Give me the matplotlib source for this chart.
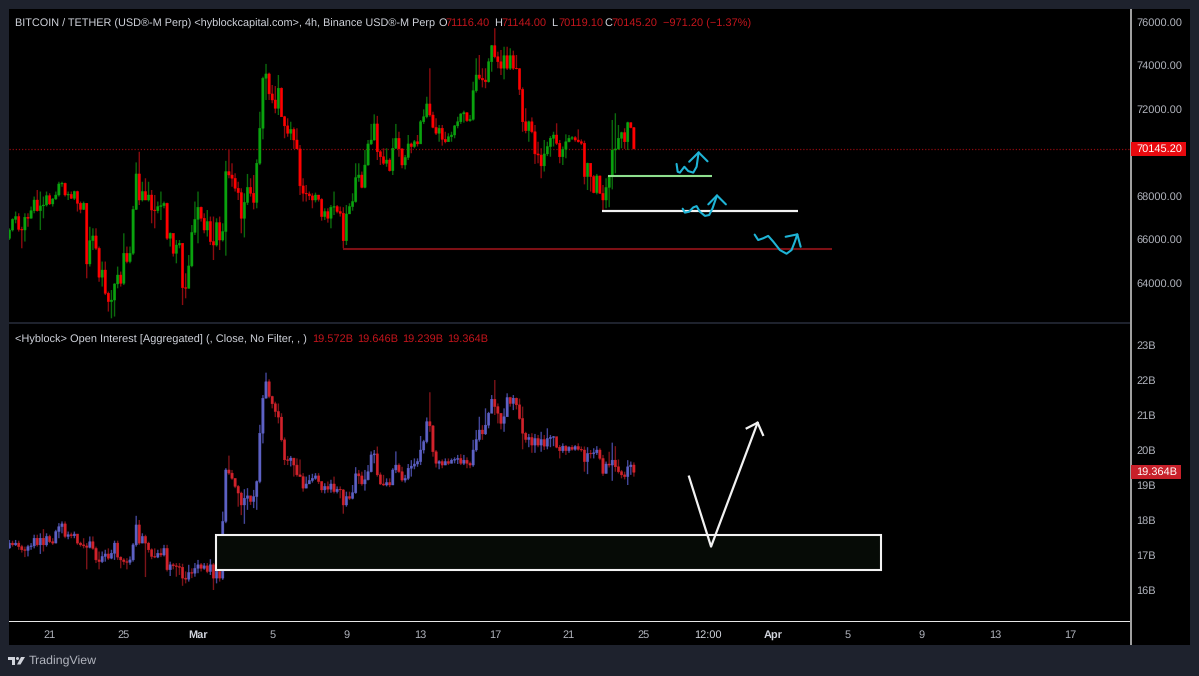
import numpy as np
import pandas as pd
import matplotlib
matplotlib.use('Agg')
import matplotlib.pyplot as plt
from matplotlib.patches import Rectangle, Polygon, Circle

plt.rcParams['font.family'] = ['Liberation Sans', 'DejaVu Sans']
plt.rcParams['text.hinting'] = 'no_hinting'

# ----- candle times -----
first_candle = '2026-02-18 20:00'
n_candles = 203

# ----- BTC price, thousands, open = previous close -----
price_first_open = 66.03
price_close = [
    66.41,66.90,67.03,66.44,66.41,67.00,66.95,67.30,67.79,67.30,
    67.52,67.56,67.99,67.61,67.84,68.02,68.53,68.56,68.02,68.05,
    67.87,68.18,67.64,67.36,67.64,64.85,65.92,66.14,65.57,64.24,
    64.57,63.50,63.12,63.19,63.93,64.34,63.96,65.34,64.96,65.34,
    67.36,68.99,67.79,68.18,67.79,68.02,67.33,67.30,67.49,67.53,
    67.64,66.03,66.26,65.34,65.72,65.80,63.76,63.73,64.76,66.30,
    66.90,67.46,66.95,66.41,66.80,65.88,65.72,66.75,65.95,66.34,
    69.10,68.94,68.79,68.33,68.13,66.95,67.68,68.37,68.10,67.68,
    69.48,71.09,73.39,73.59,72.67,72.39,72.01,72.93,71.62,71.20,
    70.86,71.04,70.55,70.14,68.44,68.10,68.07,67.98,67.79,68.02,
    67.82,67.03,67.26,66.95,67.46,67.49,67.26,67.18,65.92,67.15,
    67.49,67.72,68.82,68.94,68.37,69.40,70.37,70.55,71.29,70.01,
    69.78,69.48,69.63,69.14,70.17,70.63,70.14,69.40,69.75,70.37,
    70.25,70.47,70.37,71.39,71.62,72.21,71.70,71.13,70.86,71.09,
    70.58,70.47,70.70,70.78,71.20,71.39,71.75,71.81,71.44,71.50,
    72.82,73.54,73.39,73.31,73.23,74.15,74.89,74.38,74.15,73.85,
    74.43,73.85,74.43,73.85,73.83,72.88,71.39,70.98,71.39,70.93,
    69.91,69.86,69.36,69.91,70.25,70.63,70.78,70.40,69.78,70.12,
    70.47,70.63,70.66,70.55,70.47,70.40,68.87,69.48,68.87,68.13,
    68.90,68.10,67.79,68.37,68.87,70.09,70.14,70.63,70.89,70.47,
    71.35,71.12,70.145]
price_high = [
    66.49,66.95,67.26,67.18,66.56,67.18,67.18,67.49,67.95,68.25,
    68.18,67.95,68.18,68.10,67.87,68.18,68.63,68.63,68.59,68.18,
    68.18,68.22,68.22,67.72,67.72,67.64,66.56,66.49,66.49,65.65,
    64.96,64.96,63.58,63.65,63.96,64.73,64.50,66.26,65.65,65.65,
    67.52,69.52,70.01,68.63,68.79,68.63,68.25,68.02,67.72,68.18,
    67.72,67.67,66.30,66.07,65.95,65.95,65.80,64.42,65.26,66.64,
    67.72,68.18,67.49,67.18,67.33,67.03,67.03,66.95,67.03,66.72,
    69.59,70.09,69.48,69.02,68.63,68.33,68.10,68.99,68.79,68.94,
    69.66,71.85,73.46,74.05,73.65,73.08,73.03,73.54,72.97,71.66,
    71.55,71.39,71.13,71.09,70.32,68.79,68.48,68.18,68.10,68.13,
    68.02,67.87,67.41,67.41,67.56,68.18,67.56,67.49,67.46,67.56,
    67.64,68.10,69.48,69.48,69.10,70.09,70.55,71.29,71.73,71.66,
    70.09,70.17,70.17,69.71,70.63,71.29,70.93,70.17,69.86,70.78,
    70.43,70.55,70.78,71.47,71.96,72.54,73.85,71.85,71.55,71.24,
    71.24,70.93,70.86,70.93,71.24,71.62,71.78,71.90,71.81,71.70,
    73.23,74.31,74.46,73.85,73.85,74.31,74.92,75.69,74.61,74.69,
    74.84,74.84,74.77,74.66,74.46,73.85,72.97,72.01,71.44,71.59,
    71.24,70.47,70.17,70.55,70.47,70.73,70.93,71.32,70.55,70.25,
    70.81,70.78,70.73,70.73,71.04,70.58,70.52,69.51,69.48,68.94,
    68.99,68.87,68.48,68.79,68.90,71.47,71.78,71.24,70.93,71.09,
    71.39,71.35,71.144]
price_low = [
    65.95,66.34,66.72,66.34,65.57,65.88,66.56,66.95,67.18,67.26,
    66.41,66.95,67.49,67.56,67.49,67.79,67.95,68.40,67.95,67.79,
    67.84,67.79,67.26,67.18,67.33,64.19,64.73,65.49,65.49,64.03,
    63.81,63.42,62.66,62.35,62.43,63.73,63.81,63.88,64.88,64.88,
    65.26,67.33,67.56,67.72,67.79,67.72,66.72,66.49,67.18,66.87,
    67.41,65.95,65.65,65.19,64.88,65.57,62.96,63.27,63.73,64.70,
    66.18,65.80,66.80,66.26,66.11,65.72,65.03,65.65,65.49,65.88,
    65.23,68.79,68.40,68.18,67.79,66.26,66.07,67.56,67.95,67.36,
    67.41,69.40,70.58,72.39,72.39,72.24,71.78,71.70,71.62,70.63,
    70.70,70.55,70.14,70.14,68.02,67.72,67.72,67.79,67.41,67.68,
    67.72,66.84,66.87,66.75,66.49,67.10,67.18,67.03,65.57,65.72,
    67.18,67.30,67.67,68.63,68.33,68.33,69.37,70.32,70.52,69.63,
    69.40,69.40,69.32,69.10,68.94,70.14,69.78,69.25,69.20,69.63,
    69.94,70.17,70.25,70.40,71.29,71.55,71.62,71.09,70.78,70.47,
    70.29,70.40,70.47,70.47,70.63,71.09,71.29,71.35,71.38,71.39,
    71.44,72.73,73.31,72.97,72.93,73.19,73.69,74.31,73.85,73.54,
    73.34,73.77,73.77,73.77,73.80,72.62,70.93,70.86,70.47,70.86,
    69.45,69.48,68.79,69.10,69.81,69.78,70.25,70.32,69.48,69.40,
    69.71,70.44,70.55,70.47,70.43,70.32,68.51,68.25,68.18,68.10,
    68.05,68.07,67.30,67.41,67.46,68.28,69.02,70.09,70.17,70.14,
    70.09,71.09,70.119]
price_last = 70145.20
price_ticks = [64000, 66000, 68000, 72000, 74000, 76000]

# ----- open interest, billions, open = previous close -----
oi_first_open = 17.20
oi_close = [
    17.34,17.29,17.34,17.24,17.15,17.13,17.24,17.26,17.48,17.29,
    17.48,17.29,17.53,17.38,17.34,17.67,17.81,17.89,17.53,17.58,
    17.55,17.60,17.34,17.29,17.26,17.22,17.38,17.19,16.86,16.81,
    16.96,17.03,16.91,17.05,17.34,16.94,16.86,16.81,16.79,16.86,
    17.29,17.86,17.34,17.53,17.34,17.15,16.96,16.94,17.05,17.00,
    17.19,16.58,16.72,16.69,16.67,16.65,16.34,16.31,16.50,16.48,
    16.62,16.72,16.62,16.69,16.53,16.72,16.34,16.53,16.34,17.96,
    19.43,19.34,19.19,18.96,18.77,18.43,18.62,18.69,18.53,18.67,
    19.10,20.48,21.48,21.95,21.53,21.32,21.10,20.94,20.29,19.72,
    19.70,19.77,19.57,19.29,19.24,18.91,19.03,19.13,19.19,19.26,
    19.10,18.86,18.96,18.88,19.03,18.81,18.88,18.86,18.43,18.67,
    18.62,18.78,19.32,19.26,19.03,19.15,19.38,19.86,19.89,19.29,
    19.03,19.00,19.07,19.00,19.43,19.57,19.38,19.14,19.19,19.48,
    19.54,19.60,19.67,20.00,20.24,20.81,20.69,19.95,19.62,19.67,
    19.57,19.67,19.62,19.71,19.73,19.76,19.62,19.71,19.62,19.57,
    20.00,20.30,20.57,20.46,20.71,21.05,21.45,21.24,21.05,20.76,
    20.95,21.50,21.33,21.48,21.29,20.90,20.48,20.30,20.36,20.14,
    20.33,20.14,20.30,20.11,20.33,20.36,20.38,20.08,19.98,20.11,
    19.98,20.08,20.02,20.10,20.02,20.00,19.67,19.90,19.89,19.92,
    20.00,19.76,19.33,19.60,19.57,19.71,19.52,19.38,19.29,19.24,
    19.52,19.572,19.364]
oi_high = [
    17.43,17.41,17.43,17.41,17.29,17.24,17.29,17.34,17.58,17.58,
    17.62,17.74,17.62,17.58,17.48,17.72,17.91,17.96,17.96,17.67,
    17.64,17.67,17.60,17.38,17.48,17.34,17.53,17.53,17.24,17.10,
    17.10,17.15,17.19,17.15,17.41,17.41,16.96,16.91,16.91,16.96,
    17.34,18.12,18.00,17.62,17.58,17.38,17.19,17.19,17.15,17.19,
    17.29,17.29,16.81,16.77,16.77,16.77,16.75,16.53,16.72,16.62,
    16.77,16.86,16.77,16.77,16.77,16.88,16.77,16.62,16.53,18.24,
    19.48,19.84,19.43,19.19,19.00,18.81,18.88,18.91,18.62,18.86,
    19.13,20.72,21.57,22.21,22.02,21.55,21.38,21.33,21.05,20.36,
    19.83,19.83,19.70,19.76,19.73,19.34,19.24,19.29,19.32,19.34,
    19.34,19.10,19.05,19.10,19.15,19.24,18.96,18.96,18.88,18.81,
    18.81,19.00,19.51,19.43,19.38,19.43,19.57,19.96,20.00,20.10,
    19.36,19.29,19.19,19.19,19.48,19.96,19.62,19.52,19.29,19.60,
    19.71,19.76,19.76,20.40,20.29,20.93,21.65,20.71,20.00,19.71,
    19.73,19.76,19.76,19.76,19.79,19.86,19.88,19.86,19.79,19.67,
    20.29,20.57,20.95,20.71,21.19,21.09,21.57,22.00,21.33,21.05,
    21.19,21.62,21.52,21.57,21.50,21.47,21.24,20.52,20.46,20.48,
    20.46,20.43,20.52,20.43,20.62,20.43,20.40,20.29,20.14,20.19,
    20.14,20.11,20.14,20.14,20.19,20.10,20.10,20.08,20.00,20.05,
    20.11,20.05,19.86,19.67,19.95,20.21,20.11,19.73,19.43,19.38,
    19.71,19.67,19.646]
oi_low = [
    17.18,17.24,17.26,17.15,17.07,16.94,16.96,17.15,17.19,17.24,
    17.03,17.10,17.24,17.34,17.29,17.34,17.48,17.62,17.48,17.45,
    17.48,17.48,17.29,17.24,17.19,16.59,17.19,17.15,16.77,16.59,
    16.77,16.81,16.86,16.88,16.86,16.86,16.62,16.72,16.59,16.72,
    16.81,17.24,17.29,17.34,16.37,17.07,16.88,16.91,16.91,16.94,
    16.96,16.53,16.40,16.59,16.38,16.43,16.12,16.19,16.24,16.34,
    16.38,16.48,16.53,16.58,16.48,16.43,16.00,16.19,16.24,16.29,
    17.91,19.29,19.15,18.91,18.38,18.14,17.89,18.29,18.43,18.34,
    18.29,19.05,20.19,21.48,21.48,21.19,20.94,20.76,20.24,19.57,
    19.57,19.53,19.24,19.24,19.24,18.81,18.96,19.03,19.07,19.15,
    19.03,18.78,18.76,18.78,18.78,18.76,18.76,18.62,18.18,18.38,
    18.57,18.59,18.75,19.03,18.98,18.84,19.13,19.36,19.62,19.24,
    19.00,18.97,18.96,18.94,19.00,19.34,19.34,19.09,19.07,19.14,
    19.24,19.45,19.52,19.57,19.90,20.19,20.52,19.81,19.50,19.45,
    19.48,19.57,19.57,19.62,19.62,19.60,19.57,19.57,19.48,19.48,
    19.52,19.95,20.24,20.29,20.43,20.62,21.14,21.00,20.76,20.59,
    20.52,20.95,21.24,21.14,21.16,20.86,20.02,20.21,20.08,19.92,
    19.92,20.08,19.95,20.00,20.02,20.08,20.11,20.05,19.76,19.92,
    19.86,19.92,19.98,19.98,19.98,19.95,19.38,19.31,19.76,19.76,
    19.86,19.71,19.26,19.33,19.50,19.12,19.38,19.33,19.19,19.16,
    19.00,19.29,19.239]
oi_last = 19.364
oi_ticks = [16, 17, 18, 19, 20, 21, 22, 23]

# ----- time axis -----
time_dates = ['2026-02-21', '2026-02-25', '2026-03-01', '2026-03-05', '2026-03-09',
              '2026-03-13', '2026-03-17', '2026-03-21', '2026-03-25', '2026-03-28 12:00',
              '2026-04-01', '2026-04-05', '2026-04-09', '2026-04-13', '2026-04-17']
time_labels = ['21', '25', 'Mar', '5', '9', '13', '17', '21', '25', '12:00',
               'Apr', '5', '9', '13', '17']

# ----- hand drawn levels and sketches (day offset from Mar 1, price in thousands) -----
green_level = (22.10, 27.71, 68.90)
white_level = (21.78, 32.35, 67.29)
red_level = (7.82, 34.18, 65.56)
sketch1_x = [25.80, 25.86, 25.98, 26.22, 26.43, 26.70, 26.88, 26.99]
sketch1_y = [69.45, 69.09, 69.05, 69.32, 69.12, 69.05, 69.32, 69.98]
head1_x = [26.48, 26.99, 27.47]
head1_y = [69.55, 69.98, 69.57]
sketch2_x = [26.13, 26.25, 26.47, 26.70, 26.88, 27.06, 27.33, 27.56, 27.74, 27.98]
sketch2_y = [67.39, 67.21, 67.25, 67.45, 67.51, 67.25, 67.06, 67.10, 67.41, 68.00]
head2_x = [27.51, 27.98, 28.46]
head2_y = [67.59, 68.00, 67.59]
sketch3_x = [30.01, 30.20, 30.47, 30.74, 31.01, 31.37, 31.73, 32.00, 32.18, 32.31]
sketch3_y = [66.20, 65.95, 66.03, 66.14, 65.88, 65.49, 65.32, 65.49, 65.88, 66.21]
head3_x = [31.68, 32.31, 32.49]
head3_y = [66.10, 66.21, 65.64]

# box and arrow on the open interest pane
oi_box_x = (0.97, 36.82)
oi_box_y = (16.57, 17.57)
oi_arrow_x = [26.47, 27.66, 30.17]
oi_arrow_y = [19.24, 17.24, 20.78]
oi_head_x = [29.58, 30.17, 30.46]
oi_head_y = [20.62, 20.78, 20.43]

W, H = 1199, 676
FRAME = '#1e222d'
TEXT = '#d1d4dc'
AXIS_TEXT = '#b2b5be'
DIM_RED = '#c4151c'
CYAN = '#1fb4d6'
FS = 7.9

mar1 = pd.Timestamp('2026-03-01')
candle_days = np.array((pd.date_range(first_candle, periods=n_candles, freq='4h') - mar1)
                       / pd.Timedelta(days=1))
tick_days = [(pd.Timestamp(d) - mar1) / pd.Timedelta(days=1) for d in time_dates]


def draw_candles(ax, first_open, close, high, low, up_col, down_col, up_wick, down_wick, scale=1):
    close = np.array(close) * scale
    opens = np.r_[first_open * scale, close[:-1]]
    up = close >= opens
    wicks = ax.vlines(candle_days, np.array(low) * scale, np.array(high) * scale,
                      colors=np.where(up, up_wick, down_wick), lw=1.0, zorder=2)
    wicks.set_snap(False)
    bars = ax.bar(candle_days, close - opens, bottom=opens, width=0.125,
                  color=np.where(up, up_col, down_col),
                  edgecolor=np.where(up, up_col, down_col), lw=0.3, zorder=3)
    for b in bars:
        b.set_snap(False)


def make_pane(top, bottom):
    ax = fig.add_axes([9 / W, 1 - bottom / H, (1131 - 9) / W, (bottom - top) / H])
    ax.set_facecolor('none')
    for s in ax.spines.values():
        s.set_visible(False)
    ax.set_xlim(-10.19, 50.30)
    ax.yaxis.tick_right()
    ax.tick_params(axis='y', length=0, pad=3.8, labelsize=FS, labelcolor=AXIS_TEXT)
    ax.tick_params(axis='x', length=0)
    ax.set_xticks([])
    return ax


def last_value_tag(ax, value, label, height, width, color):
    # tag sits on the axis edge, so x runs in axes fractions and y in data
    trans = ax.get_yaxis_transform()
    ax.add_patch(Rectangle((1.0, value - height / 2), width, height, transform=trans,
                           fc=color, ec='none', clip_on=False, zorder=6))
    ax.text(1.0048, value, label, transform=trans, color='white', fontsize=FS,
            va='center', clip_on=False, zorder=7)


fig = plt.figure(figsize=(W / 100, H / 100), dpi=100, facecolor=FRAME)

# backdrop in pixel coordinates
bg = fig.add_axes([0, 0, 1, 1])
bg.set_xlim(0, W)
bg.set_ylim(H, 0)
bg.axis('off')
bg.add_patch(Rectangle((9, 9), 1181, 636, fc='black', ec='none'))
bg.add_patch(Rectangle((9, 322), 1122, 1.6, fc=FRAME, ec='none'))
bg.add_patch(Rectangle((9, 621), 1122, 1.2, fc='#e6e6e6', ec='none'))
bg.add_patch(Rectangle((1130.2, 9), 1.4, 636, fc='#a0a0a0', ec='none'))

# legends
bg.text(15, 23.5, 'BITCOIN / TETHER (USD®-M Perp) <hyblockcapital.com>, 4h, Binance USD®-M Perp',
        color=TEXT, fontsize=7.85, va='center')
for x, s, c in [(438, 'O', TEXT), (445, '71116.40', DIM_RED), (494, 'H', TEXT), (501, '71144.00', DIM_RED),
                (551, 'L', TEXT), (558, '70119.10', DIM_RED), (604, 'C', TEXT), (611, '70145.20', DIM_RED),
                (663, '−971.20 (−1.37%)', DIM_RED)]:
    bg.text(x, 23.5, s, color=c, fontsize=FS, va='center')
bg.text(15, 339.5, '<Hyblock> Open Interest [Aggregated] (, Close, No Filter, , )',
        color=TEXT, fontsize=FS, va='center')
for x, s in [(312, '19.572B'), (357, '19.646B'), (402, '19.239B'), (447, '19.364B')]:
    bg.text(x, 339.5, s, color=DIM_RED, fontsize=FS, va='center')

# TradingView mark
bg.add_patch(Polygon([(8, 657), (15, 657), (15, 664.5), (11.5, 664.5), (11.5, 660), (8, 660)],
                     fc=TEXT, ec='none'))
bg.add_patch(Circle((17.5, 658.5), 1.5, fc=TEXT, ec='none'))
bg.add_patch(Polygon([(21, 657), (25, 657), (20.5, 664.5), (17, 664.5)], fc=TEXT, ec='none'))
bg.text(28.5, 661, 'TradingView', color=AXIS_TEXT, fontsize=8.9, va='center')

# price pane
ax1 = make_pane(9, 322)
ax1.set_ylim(62180, 76575)
draw_candles(ax1, price_first_open, price_close, price_high, price_low,
             '#0aa30e', '#ff0000', '#0b6b0d', '#8c0b0f', scale=1000)
ax1.set_yticks(price_ticks, [f'{t:.2f}' for t in price_ticks])
ax1.axhline(price_last, color='#8c0b0f', lw=0.9, ls=(0, (1, 1.5)), zorder=1)
last_value_tag(ax1, price_last, f'{price_last:.2f}', 644, 55 / 1122, '#e90a0f')

for (x0, x1, lvl), col, lw in [(red_level, '#7d1015', 1.5), (white_level, '#f2f2f2', 1.6),
                               (green_level, '#8fe08f', 1.5)]:
    ax1.plot([x0, x1], [lvl * 1000, lvl * 1000], color=col, lw=lw, zorder=4, solid_capstyle='butt')
for xs, ys in [(sketch1_x, sketch1_y), (head1_x, head1_y), (sketch2_x, sketch2_y),
               (head2_x, head2_y), (sketch3_x, sketch3_y), (head3_x, head3_y)]:
    ax1.plot(xs, np.array(ys) * 1000, color=CYAN, lw=1.5, zorder=5,
             solid_capstyle='round', solid_joinstyle='round')

# open interest pane
ax2 = make_pane(324, 622)
ax2.set_ylim(15.086, 23.6)
draw_candles(ax2, oi_first_open, oi_close, oi_high, oi_low,
             '#5d61c4', '#d1222b', '#44479a', '#7c1419')
ax2.set_yticks(oi_ticks, [f'{t}B' for t in oi_ticks])
last_value_tag(ax2, oi_last, f'{oi_last:.3f}B', 0.4, 50 / 1122, '#c8202a')
ax2.add_patch(Rectangle((oi_box_x[0], oi_box_y[0]), oi_box_x[1] - oi_box_x[0], oi_box_y[1] - oi_box_y[0],
                        fc='#060b06', ec='#f2f2f2', lw=1.5, zorder=4))
ax2.plot(oi_arrow_x, oi_arrow_y, color='#f2f2f2', lw=1.6, zorder=5)
ax2.plot(oi_head_x, oi_head_y, color='#f2f2f2', lw=1.6, zorder=5)

ax2.set_xticks(tick_days, time_labels)
ax2.tick_params(axis='x', labelsize=FS, labelcolor=AXIS_TEXT, pad=5.5)
for lab in ax2.get_xticklabels():
    if lab.get_text() in ('Mar', 'Apr', '12:00'):
        lab.set_color(TEXT)
        lab.set_fontweight('bold' if lab.get_text() != '12:00' else 'normal')

fig.savefig('out.png', dpi=100, facecolor=FRAME)
